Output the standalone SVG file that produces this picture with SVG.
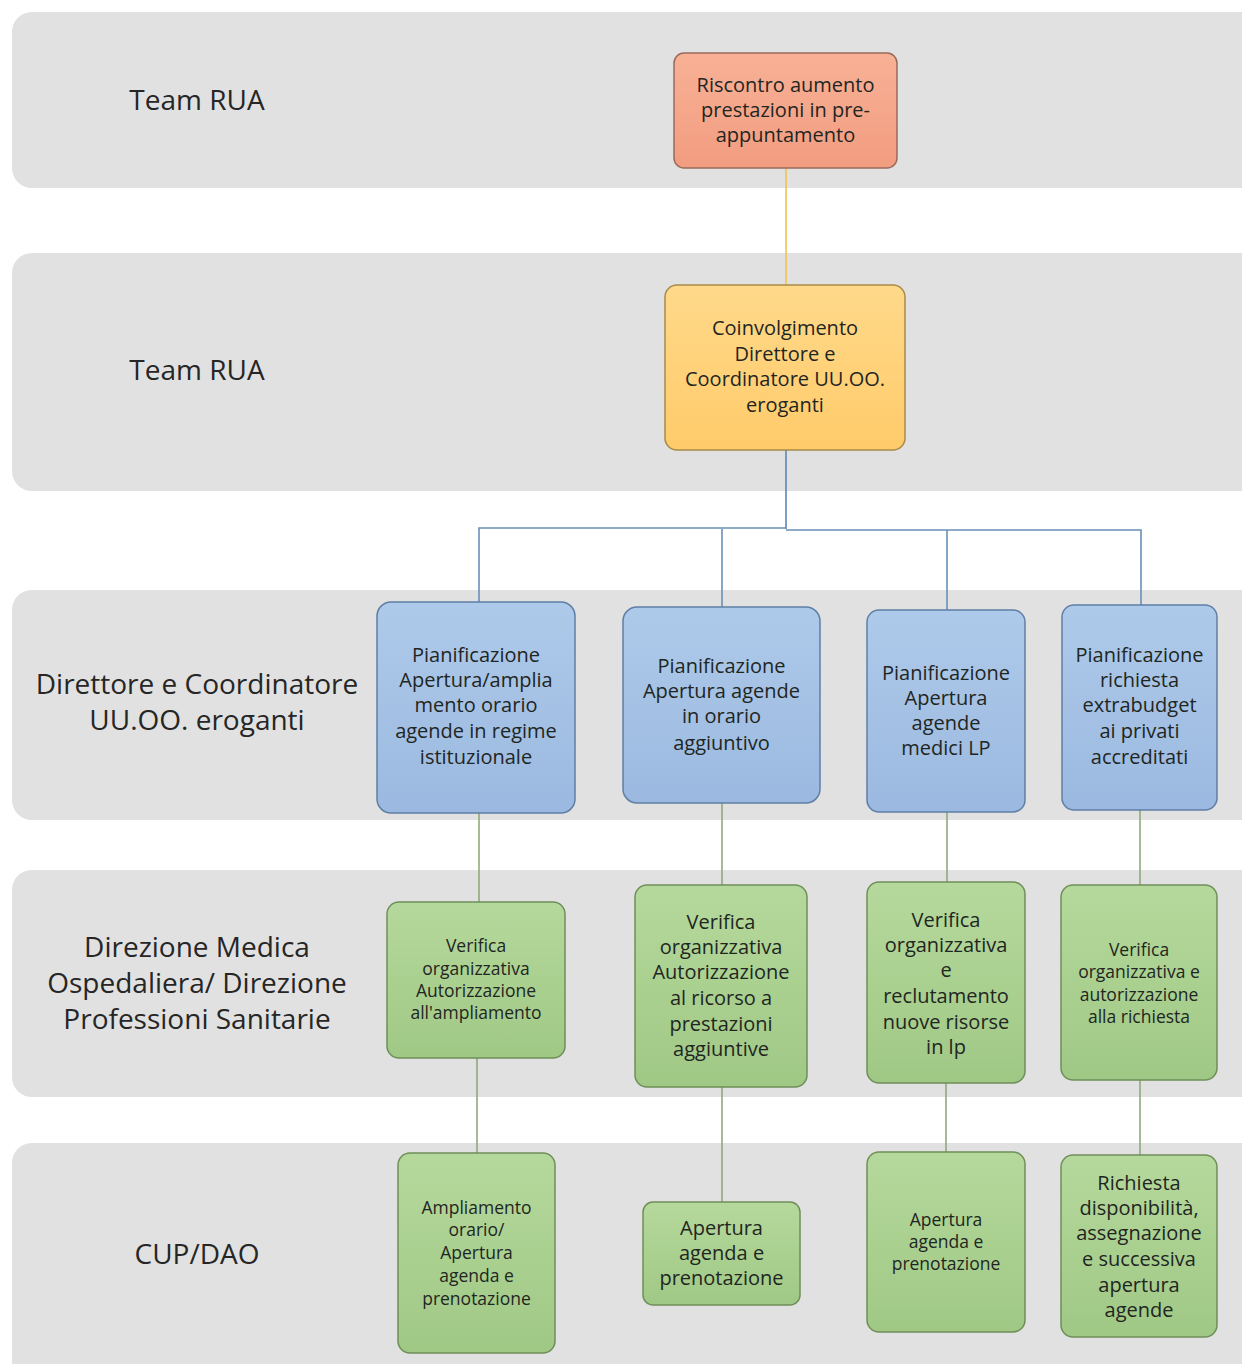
<svg xmlns="http://www.w3.org/2000/svg" width="1242" height="1364" viewBox="0 0 1242 1364">
<defs>
<linearGradient id="gOr" x1="0" y1="0" x2="0" y2="1"><stop offset="0" stop-color="#F8B196"/><stop offset="1" stop-color="#F29C80"/></linearGradient>
<linearGradient id="gYe" x1="0" y1="0" x2="0" y2="1"><stop offset="0" stop-color="#FFD98A"/><stop offset="1" stop-color="#FFCB6A"/></linearGradient>
<linearGradient id="gBl" x1="0" y1="0" x2="0" y2="1"><stop offset="0" stop-color="#AECAEA"/><stop offset="1" stop-color="#9BB9E0"/></linearGradient>
<linearGradient id="gGr" x1="0" y1="0" x2="0" y2="1"><stop offset="0" stop-color="#B5D99C"/><stop offset="1" stop-color="#A0C885"/></linearGradient>
<style>
.lane{fill:#E1E1E1}
.lt{font-family:"Open Sans","Liberation Sans",sans-serif;font-size:28px;fill:#262626;text-anchor:middle}
.nt{font-family:"Open Sans","DejaVu Sans",sans-serif;font-size:20px;fill:#1F2622;text-anchor:middle}
.ns{font-family:"Open Sans","DejaVu Sans",sans-serif;font-size:17.5px;fill:#1F2622;text-anchor:middle}
.or{fill:url(#gOr);stroke:#9A6A5A;stroke-width:1.5}
.ye{fill:url(#gYe);stroke:#A88A4A;stroke-width:1.5}
.bl{fill:url(#gBl);stroke:#5F7FA5;stroke-width:1.5}
.gr{fill:url(#gGr);stroke:#6F8F58;stroke-width:1.5}
.c{fill:none;stroke-width:1.6}
</style>
</defs>
<rect width="1242" height="1364" fill="#FFFFFF"/>
<g id="lanes">
<rect class="lane" x="12" y="12" width="1250" height="176" rx="20"/>
<rect class="lane" x="12" y="253" width="1250" height="238" rx="20"/>
<rect class="lane" x="12" y="590" width="1250" height="230" rx="20"/>
<rect class="lane" x="12" y="870" width="1250" height="227" rx="20"/>
<rect class="lane" x="12" y="1143" width="1250" height="240" rx="20"/>
<text class="lt" x="197" y="100" dy="0.35em">Team RUA</text>
<text class="lt" x="197" y="370" dy="0.35em">Team RUA</text>
<text class="lt" x="197" y="684" dy="0.35em">Direttore e Coordinatore</text>
<text class="lt" x="197" y="720" dy="0.35em">UU.OO. eroganti</text>
<text class="lt" x="197" y="947" dy="0.35em">Direzione Medica</text>
<text class="lt" x="197" y="983" dy="0.35em">Ospedaliera/ Direzione</text>
<text class="lt" x="197" y="1019" dy="0.35em">Professioni Sanitarie</text>
<text class="lt" x="197" y="1254" dy="0.35em">CUP/DAO</text>
</g>
<g id="connectors">
<line class="c" x1="786" y1="168" x2="786" y2="285" stroke="#F2C24E"/>
<polyline class="c" points="786,450 786,529" stroke="#5B86B5"/>
<polyline class="c" points="479,602 479,528 786,528" stroke="#6A8FB8"/>
<polyline class="c" points="786,530 1141,530 1141,605" stroke="#6A8FB8"/>
<line class="c" x1="722" y1="529" x2="722" y2="607" stroke="#6A8FB8"/>
<line class="c" x1="947" y1="530" x2="947" y2="610" stroke="#6A8FB8"/>
<line class="c" x1="479" y1="813" x2="479" y2="902" stroke="#8FAA7C"/>
<line class="c" x1="722" y1="803" x2="722" y2="885" stroke="#8FAA7C"/>
<line class="c" x1="947" y1="812" x2="947" y2="882" stroke="#8FAA7C"/>
<line class="c" x1="1140" y1="810" x2="1140" y2="885" stroke="#8FAA7C"/>
<line class="c" x1="477" y1="1058" x2="477" y2="1153" stroke="#8FAA7C"/>
<line class="c" x1="722" y1="1087" x2="722" y2="1202" stroke="#8FAA7C"/>
<line class="c" x1="946" y1="1083" x2="946" y2="1152" stroke="#8FAA7C"/>
<line class="c" x1="1140" y1="1080" x2="1140" y2="1155" stroke="#8FAA7C"/>
</g>
<g id="n1">
<rect class="or" x="674" y="53" width="223" height="115" rx="10"/>
<text class="nt" x="785.5" y="85" dy="0.35em">Riscontro aumento</text>
<text class="nt" x="785.5" y="110" dy="0.35em">prestazioni in pre-</text>
<text class="nt" x="785.5" y="135" dy="0.35em">appuntamento</text>
</g>
<g id="n2">
<rect class="ye" x="665" y="285" width="240" height="165" rx="12"/>
<text class="nt" x="785" y="328" dy="0.35em">Coinvolgimento</text>
<text class="nt" x="785" y="354" dy="0.35em">Direttore e</text>
<text class="nt" x="785" y="379" dy="0.35em">Coordinatore UU.OO.</text>
<text class="nt" x="785" y="405" dy="0.35em">eroganti</text>
</g>
<g id="b1">
<rect class="bl" x="377" y="602" width="198" height="211" rx="14"/>
<text class="nt" x="476" y="655" dy="0.35em">Pianificazione</text>
<text class="nt" x="476" y="680" dy="0.35em">Apertura/amplia</text>
<text class="nt" x="476" y="705" dy="0.35em">mento orario</text>
<text class="nt" x="476" y="731" dy="0.35em">agende in regime</text>
<text class="nt" x="476" y="757" dy="0.35em">istituzionale</text>
</g>
<g id="b2">
<rect class="bl" x="623" y="607" width="197" height="196" rx="14"/>
<text class="nt" x="721.5" y="666" dy="0.35em">Pianificazione</text>
<text class="nt" x="721.5" y="691" dy="0.35em">Apertura agende</text>
<text class="nt" x="721.5" y="716" dy="0.35em">in orario</text>
<text class="nt" x="721.5" y="743" dy="0.35em">aggiuntivo</text>
</g>
<g id="b3">
<rect class="bl" x="867" y="610" width="158" height="202" rx="12"/>
<text class="nt" x="946" y="673" dy="0.35em">Pianificazione</text>
<text class="nt" x="946" y="698" dy="0.35em">Apertura</text>
<text class="nt" x="946" y="723" dy="0.35em">agende</text>
<text class="nt" x="946" y="748" dy="0.35em">medici LP</text>
</g>
<g id="b4">
<rect class="bl" x="1062" y="605" width="155" height="205" rx="12"/>
<text class="nt" x="1139.5" y="655" dy="0.35em">Pianificazione</text>
<text class="nt" x="1139.5" y="680" dy="0.35em">richiesta</text>
<text class="nt" x="1139.5" y="705" dy="0.35em">extrabudget</text>
<text class="nt" x="1139.5" y="731" dy="0.35em">ai privati</text>
<text class="nt" x="1139.5" y="757" dy="0.35em">accreditati</text>
</g>
<g id="g1">
<rect class="gr" x="387" y="902" width="178" height="156" rx="12"/>
<text class="ns" x="476" y="946" dy="0.35em">Verifica</text>
<text class="ns" x="476" y="969" dy="0.35em">organizzativa</text>
<text class="ns" x="476" y="991" dy="0.35em">Autorizzazione</text>
<text class="ns" x="476" y="1013" dy="0.35em">all'ampliamento</text>
</g>
<g id="g2">
<rect class="gr" x="635" y="885" width="172" height="202" rx="12"/>
<text class="nt" x="721" y="922" dy="0.35em">Verifica</text>
<text class="nt" x="721" y="947" dy="0.35em">organizzativa</text>
<text class="nt" x="721" y="972" dy="0.35em">Autorizzazione</text>
<text class="nt" x="721" y="998" dy="0.35em">al ricorso a</text>
<text class="nt" x="721" y="1024" dy="0.35em">prestazioni</text>
<text class="nt" x="721" y="1049" dy="0.35em">aggiuntive</text>
</g>
<g id="g3">
<rect class="gr" x="867" y="882" width="158" height="201" rx="12"/>
<text class="nt" x="946" y="920" dy="0.35em">Verifica</text>
<text class="nt" x="946" y="945" dy="0.35em">organizzativa</text>
<text class="nt" x="946" y="970" dy="0.35em">e</text>
<text class="nt" x="946" y="996" dy="0.35em">reclutamento</text>
<text class="nt" x="946" y="1022" dy="0.35em">nuove risorse</text>
<text class="nt" x="946" y="1047" dy="0.35em">in lp</text>
</g>
<g id="g4">
<rect class="gr" x="1061" y="885" width="156" height="195" rx="12"/>
<text class="ns" x="1139" y="950" dy="0.35em">Verifica</text>
<text class="ns" x="1139" y="972" dy="0.35em">organizzativa e</text>
<text class="ns" x="1139" y="995" dy="0.35em">autorizzazione</text>
<text class="ns" x="1139" y="1017" dy="0.35em">alla richiesta</text>
</g>
<g id="c1">
<rect class="gr" x="398" y="1153" width="157" height="200" rx="12"/>
<text class="ns" x="476.5" y="1208" dy="0.35em">Ampliamento</text>
<text class="ns" x="476.5" y="1230" dy="0.35em">orario/</text>
<text class="ns" x="476.5" y="1253" dy="0.35em">Apertura</text>
<text class="ns" x="476.5" y="1276" dy="0.35em">agenda e</text>
<text class="ns" x="476.5" y="1299" dy="0.35em">prenotazione</text>
</g>
<g id="c2">
<rect class="gr" x="643" y="1202" width="157" height="103" rx="10"/>
<text class="nt" x="721.5" y="1228" dy="0.35em">Apertura</text>
<text class="nt" x="721.5" y="1253" dy="0.35em">agenda e</text>
<text class="nt" x="721.5" y="1278" dy="0.35em">prenotazione</text>
</g>
<g id="c3">
<rect class="gr" x="867" y="1152" width="158" height="180" rx="12"/>
<text class="ns" x="946" y="1220" dy="0.35em">Apertura</text>
<text class="ns" x="946" y="1242" dy="0.35em">agenda e</text>
<text class="ns" x="946" y="1264" dy="0.35em">prenotazione</text>
</g>
<g id="c4">
<rect class="gr" x="1061" y="1155" width="156" height="182" rx="12"/>
<text class="nt" x="1139" y="1183" dy="0.35em">Richiesta</text>
<text class="nt" x="1139" y="1208" dy="0.35em">disponibilità,</text>
<text class="nt" x="1139" y="1233" dy="0.35em">assegnazione</text>
<text class="nt" x="1139" y="1259" dy="0.35em">e successiva</text>
<text class="nt" x="1139" y="1285" dy="0.35em">apertura</text>
<text class="nt" x="1139" y="1310" dy="0.35em">agende</text>
</g>
</svg>
